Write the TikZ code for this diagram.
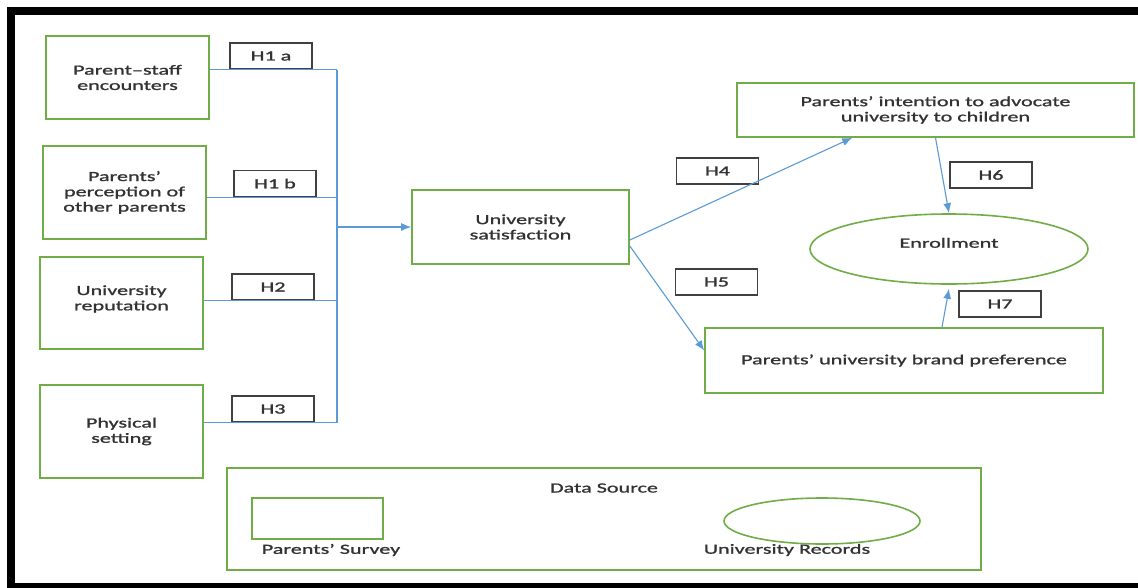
\documentclass[tikz,border=0pt]{standalone}
\usepackage{fontspec}
\setmainfont{Carlito}[FakeStretch=1.58,FakeBold=1.2]
\usetikzlibrary{arrows.meta,shapes.geometric}
\definecolor{boxgreen}{RGB}{112,173,71}
\definecolor{linkblue}{RGB}{91,155,213}
\definecolor{labgray}{RGB}{64,64,64}
\definecolor{bodytext}{RGB}{50,50,50}

\begin{document}
\begin{tikzpicture}[x=1pt,y=-1pt,font=\fontsize{14}{15.3}\selectfont,text=bodytext,
  varbox/.style={draw=boxgreen,line width=1.6pt,fill=white,align=center,inner sep=0pt},
  hyp/.style={draw=labgray,line width=1.8pt,minimum width=82pt,minimum height=26pt,inner sep=0pt},
  link/.style={draw=linkblue,line width=1.1pt},
  hyparrow/.style={link,-{Latex[length=10pt,width=8pt]}}]
\useasboundingbox (0,0) rectangle (1138,587);
\fill[white] (0,0) rectangle (1138,587);
\begin{scope}
\clip (0,0) rectangle (1138,587);
\draw[line width=8pt] (10.5,11) rectangle (1160,587);
\end{scope}

\node[varbox,minimum width=163pt,minimum height=83pt] (pse) at (127.5,77.5) {Parent–staff\\encounters};
\node[varbox,minimum width=163pt,minimum height=93pt] (ppo) at (124.5,192.5) {Parents’\\perception of\\other parents};
\node[varbox,minimum width=163pt,minimum height=92pt] (urep) at (121.5,303) {University\\reputation\\[-5pt]};
\node[varbox,minimum width=163pt,minimum height=93pt] (phys) at (121.5,431.5) {Physical\\setting};
\node[varbox,minimum width=217pt,minimum height=74pt] (usat) at (520.5,227) {University\\satisfaction};
\node[varbox,minimum width=397pt,minimum height=54pt] (intent) at (935.5,110) {Parents’ intention to advocate\\university to children};
\node[varbox,minimum width=398pt,minimum height=65pt] (brand) at (904,360.5) {Parents’ university brand preference};
\node[varbox,ellipse,minimum width=278pt,minimum height=70pt] (enrol) at (949,249) {Enrollment\\[-3pt]};

\node[hyp] (h1a) at (271,56) {H1 a};
\node[hyp] (h1b) at (275,183.5) {H1 b};
\node[hyp] (h2) at (273,287) {H2};
\node[hyp] (h3) at (273,409) {H3};
\node[hyp] (h4) at (717.5,171) {H4};
\node[hyp] (h5) at (716.5,282) {H5};
\node[hyp] (h6) at (991,175) {H6};
\node[hyp] (h7) at (1000,304) {H7};

\coordinate (bus) at (337,0);
\draw[link] (pse.east |- h1a.south) -- (h1a.south -| bus);
\draw[link] (ppo.east |- h1b.south) -- (h1b.south -| bus);
\draw[link] (urep.east |- h2.south) -- (h2.south -| bus);
\draw[link] (phys.east |- h3.south) -- (h3.south -| bus);
\draw[link] (bus |- h1a.south) -- (bus |- h3.south);
\draw[hyparrow] (bus |- usat.west) -- (usat.west);
\draw[hyparrow] ([yshift=-13pt]usat.east) -- ([xshift=116pt]intent.south west);
\draw[hyparrow] ([yshift=-19pt]usat.east) -- ([yshift=10pt]brand.west);
\draw[hyparrow] (intent.south) -- (enrol.north);
\draw[hyparrow] ([xshift=38pt]brand.north) -- ([yshift=-4pt]enrol.south);

\node[varbox,minimum width=754pt,minimum height=102pt] (src) at (604,519) {};
\node (srctitle) at (604,488) {Data Source};
\node[varbox,minimum width=131pt,minimum height=41pt] (survey) at (317.5,518.5) {};
\node (surveytxt) at (331,550) {Parents’ Survey};
\node[varbox,ellipse,minimum width=196pt,minimum height=46pt] (records) at (822,521) {};
\node (recordstxt) at (787,550) {University Records};
\end{tikzpicture}
\end{document}
